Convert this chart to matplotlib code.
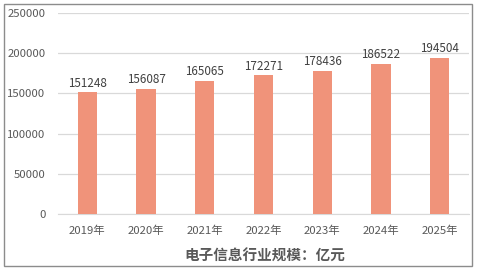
import matplotlib
matplotlib.use("Agg")
import matplotlib.pyplot as plt
from matplotlib.patches import Rectangle

plt.rcParams['font.family'] = ['Noto Sans CJK SC', 'DejaVu Sans']

categories = ["2019年", "2020年", "2021年", "2022年", "2023年", "2024年", "2025年"]
values = [151248, 156087, 165065, 172271, 178436, 186522, 194504]
yticks = [0, 50000, 100000, 150000, 200000, 250000]
title = "电子信息行业规模：亿元"

W, H = 478, 270
fig = plt.figure(figsize=(W/100, H/100), dpi=100)
fig.patch.set_facecolor("white")
fig.add_artist(Rectangle((4/W, 4/H), 468/W, 262/H, transform=fig.transFigure,
                         fill=False, edgecolor="#8c8c8c", linewidth=1.0))

ax = fig.add_axes([58/W, 1-214/H, 411/W, 201/H])
x = list(range(len(categories)))
ax.bar(x, values, width=0.33, color="#F0937A", zorder=3)
ax.set_xlim(-0.5, len(categories)-0.5)
ax.set_ylim(0, 250000)
ax.set_yticks(yticks)
ax.set_yticklabels([str(v) for v in yticks])
ax.set_xticks(x)
ax.set_xticklabels(categories)
ax.grid(axis="y", color="#d9d9d9", linewidth=0.9, zorder=0)
for s in ["top", "right", "left"]:
    ax.spines[s].set_visible(False)
ax.spines["bottom"].set_color("#d9d9d9")
ax.tick_params(axis="both", length=0, colors="#595959", labelsize=8.2)
ax.tick_params(axis="x", pad=8)
ax.tick_params(axis="y", pad=9)
for xi, v in zip(x, values):
    ax.text(xi, v + 3500, str(v), ha="center", va="bottom", fontsize=8.4, color="#404040")

fig.text(265/W, 1-256/H, title, ha="center", va="center", fontsize=10.5,
         fontweight="bold", color="#595959")
fig.savefig("out.png", dpi=100)
